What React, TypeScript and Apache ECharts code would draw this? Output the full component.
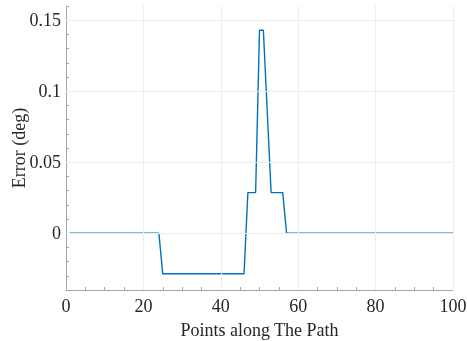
import React, { useEffect, useRef } from "react";
import * as echarts from "echarts";

const pointX = [1, 24, 25, 46, 47, 49, 50, 51, 53, 56, 57, 100];
const errorDeg = [0, 0, -0.0286, -0.0286, 0.0286, 0.0286, 0.1429, 0.1429, 0.0286, 0.0286, 0, 0];
const yGridValues = [0, 0.05, 0.1, 0.15];
const xGridValues = [20, 40, 60, 80, 100];

export default function App() {
  const ref = useRef<HTMLDivElement>(null);
  useEffect(() => {
    if (!ref.current) return;
    const chart = echarts.init(ref.current, null, { renderer: "svg" });
    const font = "'Liberation Serif', 'DejaVu Serif', serif";
    const gridStyle = { color: "#ececec", width: 1, type: "solid" as const };
    chart.setOption({
      animation: false,
      textStyle: { fontFamily: font },
      grid: { left: 66, right: 14, top: 6, bottom: 51, containLabel: false, outerBoundsMode: "none" },
      xAxis: {
        type: "value",
        min: 0,
        max: 100,
        interval: 5,
        name: "Points along The Path",
        nameLocation: "middle",
        nameGap: 31,
        nameMoveOverlap: false,
        nameTextStyle: { fontFamily: font, fontSize: 18, color: "#262626" },
        axisLine: { show: true, onZero: false, lineStyle: { color: "#a6a6a6", width: 1 } },
        axisTick: { show: true, inside: true, length: 3, lineStyle: { color: "#a6a6a6" } },
        axisLabel: {
          fontFamily: font,
          fontSize: 18,
          color: "#262626",
          margin: 7,
          formatter: (v: number) => (Math.round(v) % 20 === 0 ? String(Math.round(v)) : ""),
        },
        splitLine: { show: false },
      },
      yAxis: {
        type: "value",
        min: -0.04,
        max: 0.16,
        interval: 0.01,
        name: "Error (deg)",
        nameLocation: "middle",
        nameGap: 38,
        nameMoveOverlap: false,
        nameTextStyle: { fontFamily: font, fontSize: 18, color: "#262626" },
        axisLine: { show: true, onZero: false, lineStyle: { color: "#a6a6a6", width: 1 } },
        axisTick: { show: true, inside: true, length: 3, lineStyle: { color: "#a6a6a6" } },
        axisLabel: {
          fontFamily: font,
          fontSize: 18,
          color: "#262626",
          margin: 5,
          formatter: (v: number) => {
            const r = Math.round(v * 100);
            if (r < 0 || r % 5 !== 0) return "";
            return String(Number((r / 100).toFixed(2)));
          },
        },
        splitLine: { show: false },
      },
      series: [
        {
          type: "line",
          data: pointX.map((x, i) => [x, errorDeg[i]]),
          showSymbol: false,
          symbol: "none",
          lineStyle: { color: "#0072BD", width: 1.4 },
          z: 3,
          markLine: {
            silent: true,
            symbol: "none",
            label: { show: false },
            lineStyle: gridStyle,
            animation: false,
            data: [
              ...yGridValues.map((v) => ({ yAxis: v })),
              ...xGridValues.map((v) => ({ xAxis: v })),
            ],
          },
        },
      ],
    });
    return () => chart.dispose();
  }, []);
  return (
    <div
      ref={ref}
      style={{ position: "fixed", left: 0, top: 0, width: 467, height: 341 }}
    />
  );
}
